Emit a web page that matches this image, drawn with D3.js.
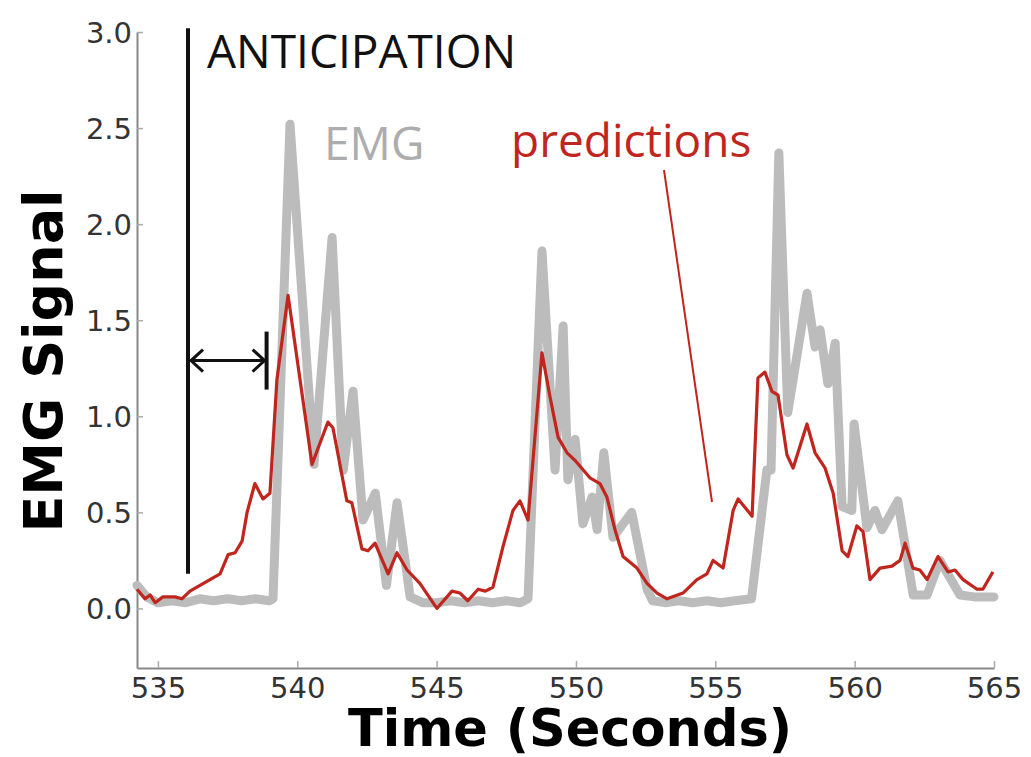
<!DOCTYPE html>
<html>
<head>
<meta charset="utf-8">
<script src="https://cdn.jsdelivr.net/npm/d3@7"></script>
<style>
  body { margin: 0; background: #fff; }
  svg { display: block; }
</style>
</head>
<body>
<div id="chart"></div>
<script>

let width = 1031;
let height = 757;

// EMG signal (gray)
let emgTime = [534.25, 534.6, 535.0, 535.5, 536.0, 536.5, 537.0, 537.5, 538.0, 538.5, 539.0, 539.13,
    539.74, 540.6, 541.25, 541.65, 542.0, 542.36, 542.8, 543.2, 543.58, 544.05, 544.5, 545.0, 545.5,
    546.0, 546.5, 547.0, 547.5, 548.0, 548.28, 548.78, 549.25, 549.54, 549.71, 549.97, 550.25, 550.58,
    550.76, 551.0, 551.33, 552.0, 552.55, 552.75, 553.2, 553.7, 554.2, 554.7, 555.2, 555.7, 556.3,
    556.85, 557.0, 557.28, 557.6, 558.29, 558.58, 558.76, 559.04, 559.3, 559.55, 559.9, 559.98,
    560.44, 560.73, 560.98, 561.55, 562.1, 562.6, 563.06, 563.78, 564.3, 565.0];
let emgValues = [0.12, 0.06, 0.03, 0.04, 0.03, 0.05, 0.04, 0.05, 0.04, 0.05, 0.04, 0.05,
    2.52, 0.75, 1.93, 0.72, 1.13, 0.46, 0.6, 0.12, 0.55, 0.06, 0.03, 0.03, 0.04,
    0.03, 0.04, 0.03, 0.04, 0.03, 0.05, 1.86, 0.72, 1.47, 0.67, 0.88, 0.44, 0.58,
    0.41, 0.81, 0.37, 0.5, 0.1, 0.04, 0.03, 0.04, 0.03, 0.04, 0.03, 0.04, 0.05,
    0.72, 0.72, 2.37, 1.02, 1.64, 1.36, 1.45, 1.17, 1.38, 0.53, 0.51, 0.96,
    0.42, 0.51, 0.41, 0.56, 0.07, 0.07, 0.25, 0.07, 0.06, 0.06];

// predictions (red)
let predTime = [534.25, 534.54, 534.72, 534.9, 535.18, 535.61, 535.86, 536.15, 536.51, 536.87, 537.23,
    537.52, 537.77, 538.02, 538.2, 538.48, 538.77, 539.02, 539.27, 539.67, 540.53, 541.1, 541.28,
    541.78, 541.96, 542.32, 542.54, 542.79, 543.26, 543.58, 543.94, 544.4, 545.01, 545.55, 545.84,
    546.12, 546.49, 546.75, 547.02, 547.38, 547.74, 547.99, 548.28, 548.78, 549.07, 549.36, 549.68,
    549.97, 550.5, 550.86, 551.11, 551.4, 551.69, 552.19, 552.55, 552.91, 553.27, 553.84, 554.34,
    554.7, 554.92, 555.28, 555.64, 555.82, 556.32, 556.53, 556.78, 557.03, 557.25, 557.57, 557.79,
    558.29, 558.58, 558.94, 559.23, 559.55, 559.76, 560.08, 560.3, 560.55, 560.91, 561.34, 561.63,
    561.81, 562.09, 562.34, 562.6, 562.99, 563.35, 563.6, 563.89, 564.39, 564.6, 564.96];
let predValues = [0.10, 0.05, 0.07, 0.03, 0.06, 0.06, 0.05, 0.09, 0.12, 0.15, 0.18,
    0.28, 0.29, 0.35, 0.5, 0.65, 0.57, 0.6, 1.19, 1.63, 0.75, 0.97, 0.94,
    0.56, 0.55, 0.31, 0.30, 0.34, 0.18, 0.29, 0.2, 0.13, 0.0, 0.09, 0.08,
    0.04, 0.1, 0.09, 0.11, 0.32, 0.51, 0.56, 0.46, 1.33, 1.1, 0.89, 0.81,
    0.77, 0.68, 0.65, 0.58, 0.41, 0.27, 0.21, 0.13, 0.08, 0.05, 0.08, 0.15,
    0.18, 0.25, 0.21, 0.51, 0.57, 0.48, 1.2, 1.23, 1.13, 1.11, 0.8, 0.73,
    0.96, 0.81, 0.73, 0.6, 0.3, 0.27, 0.43, 0.4, 0.15, 0.21, 0.22, 0.25,
    0.34, 0.21, 0.2, 0.15, 0.27, 0.19, 0.2, 0.15, 0.1, 0.1, 0.19];

let xTicks = [535, 540, 545, 550, 555, 560, 565];
let yTicks = [0.0, 0.5, 1.0, 1.5, 2.0, 2.5, 3.0];

// annotations (data coords)
let anticipationX = 536.08;
let anticipationRange = [0.18, 3.02];
let arrowSpan = [536.08, 538.9];
let arrowY = 1.29;

let x = d3.scaleLinear().domain([534.25, 565]).range([137, 994]);
let y = d3.scaleLinear().domain([-0.31, 3.0]).range([668, 32]);

let svg = d3.select("#chart").append("svg")
    .attr("width", width)
    .attr("height", height);

// axes
let xAxis = d3.axisBottom(x).tickValues(xTicks).tickSizeInner(-7).tickSizeOuter(0).tickPadding(9);
let yAxis = d3.axisLeft(y).tickValues(yTicks).tickSizeInner(-6).tickSizeOuter(0).tickPadding(5)
    .tickFormat(d3.format(".1f"));

let gx = svg.append("g").attr("transform", "translate(0,668)").call(xAxis);
let gy = svg.append("g").attr("transform", "translate(137,0)").call(yAxis);

[gx, gy].forEach(g => {
    g.select(".domain").attr("stroke", "#888").attr("stroke-width", 2);
    g.selectAll(".tick line").attr("stroke", "#aaa").attr("stroke-width", 1.5);
    g.selectAll(".tick text")
        .attr("fill", "#333")
        .style("font-family", "DejaVu Sans")
        .style("font-size", "29px");
});
gx.selectAll(".tick text").attr("dy", "0.71em");
gy.selectAll(".tick text").attr("dy", "0.36em");

// series
let line = d3.line().x(d => x(d[0])).y(d => y(d[1]));

svg.append("path")
    .datum(d3.zip(emgTime, emgValues))
    .attr("d", line)
    .attr("fill", "none")
    .attr("stroke", "#bcbcbc")
    .attr("stroke-width", 9)
    .attr("stroke-linejoin", "round")
    .attr("stroke-linecap", "round");

svg.append("path")
    .datum(d3.zip(predTime, predValues))
    .attr("d", line)
    .attr("fill", "none")
    .attr("stroke", "#c0251e")
    .attr("stroke-width", 3.2)
    .attr("stroke-linejoin", "round");

// anticipation marker
svg.append("line")
    .attr("x1", x(anticipationX)).attr("x2", x(anticipationX))
    .attr("y1", y(anticipationRange[0])).attr("y2", y(anticipationRange[1]))
    .attr("stroke", "#111").attr("stroke-width", 4);

let ax0 = x(arrowSpan[0]) + 3, ax1 = x(arrowSpan[1]), ay = y(arrowY);
svg.append("line")
    .attr("x1", ax0).attr("x2", ax1 - 2)
    .attr("y1", ay).attr("y2", ay)
    .attr("stroke", "#111").attr("stroke-width", 3);
svg.append("path")
    .attr("d", `M${ax0 + 12},${ay - 11}L${ax0},${ay}L${ax0 + 12},${ay + 11}`)
    .attr("fill", "none").attr("stroke", "#111").attr("stroke-width", 3);
svg.append("path")
    .attr("d", `M${ax1 - 14},${ay - 11}L${ax1 - 2},${ay}L${ax1 - 14},${ay + 11}`)
    .attr("fill", "none").attr("stroke", "#111").attr("stroke-width", 3);
svg.append("line")
    .attr("x1", ax1).attr("x2", ax1)
    .attr("y1", ay - 29).attr("y2", ay + 29)
    .attr("stroke", "#111").attr("stroke-width", 4);

// pointer from "predictions" label
svg.append("line")
    .attr("x1", 664).attr("y1", 170)
    .attr("x2", 712).attr("y2", 502)
    .attr("stroke", "#c0251e").attr("stroke-width", 2);

// labels
let labelFont = "'Open Sans', sans-serif";
svg.append("text").attr("x", 207).attr("y", 68).text("ANTICIPATION")
    .style("font-family", labelFont).style("font-size", "46px").attr("fill", "#111");
svg.append("text").attr("x", 324).attr("y", 160).text("EMG")
    .style("font-family", labelFont).style("font-size", "46px").attr("fill", "#adadad");
svg.append("text").attr("x", 511).attr("y", 157).text("predictions")
    .style("font-family", labelFont).style("font-size", "46px").attr("fill", "#c0251e");

svg.append("text")
    .attr("x", 570).attr("y", 746)
    .attr("text-anchor", "middle")
    .style("font-family", "DejaVu Sans").style("font-weight", "bold").style("font-size", "51px")
    .attr("fill", "#000")
    .text("Time (Seconds)");

svg.append("text")
    .attr("transform", "translate(62,361) rotate(-90)")
    .attr("text-anchor", "middle")
    .style("font-family", "DejaVu Sans").style("font-weight", "bold").style("font-size", "54px")
    .attr("fill", "#000")
    .text("EMG Signal");

</script>
</body>
</html>
